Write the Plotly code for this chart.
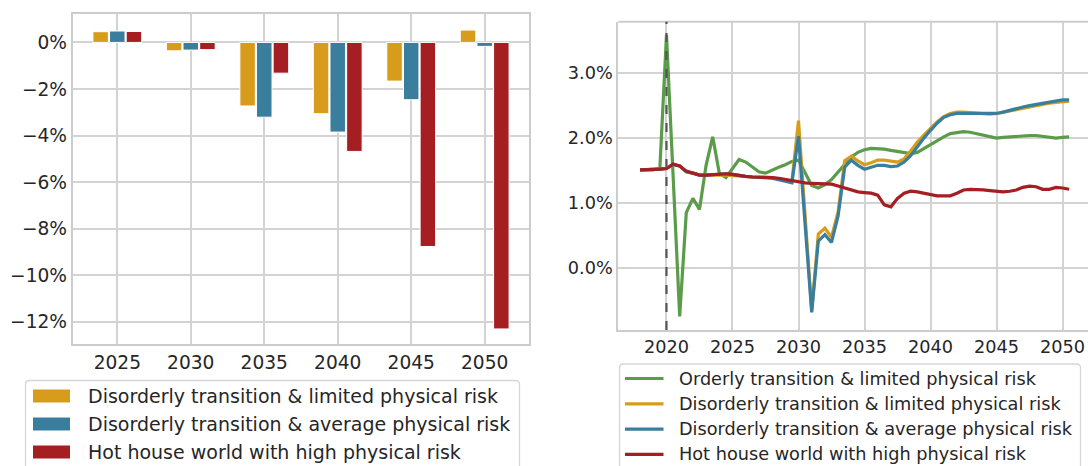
import plotly.graph_objects as go

# ---------------- data ----------------
bar_years = ["2025", "2030", "2035", "2040", "2045", "2050"]
disorderly_limited_gap = [0.46, -0.36, -2.73, -3.06, -1.66, 0.53]
disorderly_average_gap = [0.49, -0.33, -3.21, -3.85, -2.46, -0.17]
hot_house_gap = [0.47, -0.31, -1.32, -4.68, -8.76, -12.30]

bar_ticks = [0, -2, -4, -6, -8, -10, -12]
bar_tick_text = ["0%", "\u22122%", "\u22124%", "\u22126%", "\u22128%", "\u221210%", "\u221212%"]

# semi-annual growth paths, 2018.0 ... 2050.5
years = [2018 + 0.5 * i for i in range(66)]

orderly_limited = [
    1.51, 1.51, 1.51, 1.54, 3.59, 1.42, -0.75, 0.85, 1.07, 0.90,
    1.58, 2.02, 1.46, 1.39, 1.53, 1.67, 1.63, 1.55, 1.48, 1.46,
    1.51, 1.55, 1.59, 1.64, 1.66, 1.47, 1.27, 1.23, 1.28, 1.36,
    1.48, 1.60, 1.71, 1.78, 1.82, 1.84, 1.84, 1.83, 1.81, 1.79,
    1.77, 1.76, 1.78, 1.84, 1.91, 1.97, 2.02, 2.07, 2.09, 2.10,
    2.09, 2.07, 2.04, 2.02, 2.00, 2.01, 2.02, 2.03, 2.03, 2.04,
    2.04, 2.03, 2.01, 2.00, 2.01, 2.02,
]
disorderly_limited = [
    1.51, 1.51, 1.51, 1.52, 1.53, 1.59, 1.57, 1.48, 1.46, 1.43,
    1.43, 1.43, 1.44, 1.43, 1.42, 1.41, 1.40, 1.40, 1.40, 1.40,
    1.39, 1.37, 1.35, 1.33, 2.27, 0.80, -0.66, 0.52, 0.61, 0.47,
    0.86, 1.65, 1.72, 1.65, 1.59, 1.62, 1.66, 1.66, 1.64, 1.63,
    1.68, 1.80, 1.94, 2.05, 2.15, 2.25, 2.33, 2.38, 2.40, 2.40,
    2.39, 2.38, 2.37, 2.37, 2.38, 2.40, 2.42, 2.45, 2.47, 2.49,
    2.51, 2.52, 2.54, 2.55, 2.56, 2.57,
]
disorderly_average = [
    1.51, 1.51, 1.51, 1.52, 1.53, 1.59, 1.57, 1.48, 1.46, 1.43,
    1.43, 1.44, 1.45, 1.45, 1.44, 1.42, 1.41, 1.40, 1.40, 1.39,
    1.38, 1.36, 1.33, 1.31, 2.03, 0.67, -0.69, 0.41, 0.51, 0.39,
    0.80, 1.55, 1.66, 1.58, 1.52, 1.55, 1.58, 1.58, 1.56, 1.57,
    1.63, 1.73, 1.87, 2.00, 2.12, 2.23, 2.32, 2.36, 2.38, 2.38,
    2.38, 2.37, 2.37, 2.37, 2.38, 2.40, 2.43, 2.46, 2.48, 2.50,
    2.52, 2.54, 2.56, 2.57, 2.59, 2.59,
]
hot_house = [
    1.51, 1.51, 1.51, 1.52, 1.53, 1.60, 1.57, 1.49, 1.46, 1.43,
    1.43, 1.44, 1.45, 1.45, 1.44, 1.42, 1.41, 1.40, 1.40, 1.40,
    1.39, 1.38, 1.36, 1.34, 1.33, 1.31, 1.30, 1.30, 1.30, 1.29,
    1.26, 1.23, 1.19, 1.17, 1.16, 1.15, 1.12, 0.97, 0.94, 1.07,
    1.15, 1.18, 1.17, 1.15, 1.12, 1.11, 1.11, 1.11, 1.15, 1.20,
    1.21, 1.21, 1.20, 1.19, 1.18, 1.17, 1.18, 1.20, 1.24, 1.26,
    1.25, 1.21, 1.21, 1.24, 1.23, 1.21,
]

line_ticks = [0, 1, 2, 3]
line_tick_text = ["0.0%", "1.0%", "2.0%", "3.0%"]
line_xticks = [2020, 2025, 2030, 2035, 2040, 2045, 2050]
base_year = 2020

bar_names = [
    "Disorderly transition & limited physical risk",
    "Disorderly transition & average physical risk",
    "Hot house world with high physical risk",
]
line_names = ["Orderly transition & limited physical risk"] + bar_names

# ---------------- style ----------------
W, H = 1088, 466
GREEN = "#5b9c4a"
GOLD = "#d89c1c"
TEAL = "#3a7e9e"
RED = "#a51e22"
TEXT = "#262626"
GRID = "#d3d3d3"
FRAME = "#cccccc"
FONT = "DejaVu Sans"
FS_LEFT = 18.6
FS_LEFT_LEGEND = 19.0
FS_RIGHT = 17.7


def fx(px):
    return px / W


def fy(py):
    return 1 - py / H


fig = go.Figure()

for name, vals, col in zip(bar_names,
                           [disorderly_limited_gap, disorderly_average_gap, hot_house_gap],
                           [GOLD, TEAL, RED]):
    fig.add_trace(go.Bar(
        x=bar_years, y=vals, name=name, marker_color=col,
        marker_line_color="white", marker_line_width=1,
        xaxis="x", yaxis="y", showlegend=False,
    ))

for name, vals, col in zip(line_names,
                           [orderly_limited, disorderly_limited, disorderly_average, hot_house],
                           [GREEN, GOLD, TEAL, RED]):
    fig.add_trace(go.Scatter(
        x=years, y=vals, name=name, mode="lines",
        line=dict(color=col, width=3.2),
        xaxis="x2", yaxis="y2", showlegend=False,
    ))

# ---------------- axes ----------------
L_LEFT, L_RIGHT, L_TOP, L_BOT = 72.7, 529.0, 14.0, 344.3
R_LEFT, R_TOP, R_BOT = 618.3, 21.7, 330.0

common = dict(showgrid=True, gridcolor=GRID, gridwidth=1.5, zeroline=False, ticks="")

fig.update_layout(
    width=W, height=H,
    margin=dict(l=0, r=0, t=0, b=0),
    paper_bgcolor="white", plot_bgcolor="white",
    font=dict(family=FONT, color=TEXT),
    barmode="group", bargap=0.32, bargroupgap=0.07,
    xaxis=dict(domain=[fx(L_LEFT), fx(L_RIGHT)], type="category",
               range=[-0.607, 5.603], tickfont=dict(size=FS_LEFT),
               showline=True, mirror=True, linecolor=FRAME, linewidth=2,
               anchor="y", **common),
    yaxis=dict(domain=[fy(L_BOT), fy(L_TOP)], range=[-12.96, 1.22],
               tickvals=bar_ticks, ticktext=bar_tick_text,
               tickfont=dict(size=FS_LEFT),
               showline=True, mirror=True, linecolor=FRAME, linewidth=2,
               anchor="x", **common),
    xaxis2=dict(domain=[fx(R_LEFT), 1.0], range=[2016.35, 2051.93],
                tickvals=line_xticks, tickfont=dict(size=FS_RIGHT),
                showline=True, linecolor=FRAME, linewidth=2,
                anchor="y2", **common),
    yaxis2=dict(domain=[fy(R_BOT), fy(R_TOP)], range=[-0.961, 3.796],
                tickvals=line_ticks, ticktext=line_tick_text,
                tickfont=dict(size=FS_RIGHT),
                showline=True, linecolor=FRAME, linewidth=2,
                anchor="x2", **common),
)

shapes = []
# top edge of the right panel (runs off the page on the right)
shapes.append(dict(type="line", xref="paper", yref="paper",
                   x0=fx(R_LEFT), x1=1.02, y0=fy(R_TOP), y1=fy(R_TOP),
                   line=dict(color=FRAME, width=2)))
# base year marker
shapes.append(dict(type="line", xref="x2", yref="y2 domain",
                   x0=base_year, x1=base_year, y0=0, y1=1,
                   line=dict(color="#555555", width=2.2, dash="dash"), layer="above"))


def rounded_box(x0, y0, x1, y1, r=4):
    # pixel coords -> paper path with rounded corners
    def p(x, y):
        return f"{fx(x):.5f},{fy(y):.5f}"
    return ("M " + p(x0 + r, y0) + " L " + p(x1 - r, y0) + " Q " + p(x1, y0) + " " + p(x1, y0 + r)
            + " L " + p(x1, y1 - r) + " Q " + p(x1, y1) + " " + p(x1 - r, y1)
            + " L " + p(x0 + r, y1) + " Q " + p(x0, y1) + " " + p(x0, y1 - r)
            + " L " + p(x0, y0 + r) + " Q " + p(x0, y0) + " " + p(x0 + r, y0) + " Z")


annotations = []

# legend for the bar panel
shapes.append(dict(type="path", xref="paper", yref="paper",
                   path=rounded_box(25.5, 380.5, 519.5, 480),
                   line=dict(color="#d6d6d6", width=1.3), fillcolor="white"))
for i, (name, col) in enumerate(zip(bar_names, [GOLD, TEAL, RED])):
    cy = 396 + 28 * i
    shapes.append(dict(type="rect", xref="paper", yref="paper",
                       x0=fx(33), x1=fx(70), y0=fy(cy - 6.5), y1=fy(cy + 6.5),
                       fillcolor=col, line=dict(width=0)))
    annotations.append(dict(text=name, xref="paper", yref="paper",
                            x=fx(86), y=fy(cy), xanchor="left", yanchor="middle",
                            showarrow=False, font=dict(size=FS_LEFT_LEGEND, color=TEXT)))

# legend for the line panel
shapes.append(dict(type="path", xref="paper", yref="paper",
                   path=rounded_box(619.5, 364, 1080.5, 480),
                   line=dict(color="#d6d6d6", width=1.3), fillcolor="white"))
for i, (name, col) in enumerate(zip(line_names, [GREEN, GOLD, TEAL, RED])):
    cy = 378.5 + 25.3 * i
    shapes.append(dict(type="line", xref="paper", yref="paper",
                       x0=fx(625), x1=fx(663.5), y0=fy(cy), y1=fy(cy),
                       line=dict(color=col, width=3.2)))
    annotations.append(dict(text=name, xref="paper", yref="paper",
                            x=fx(677), y=fy(cy), xanchor="left", yanchor="middle",
                            showarrow=False, font=dict(size=FS_RIGHT, color=TEXT)))

fig.update_layout(shapes=shapes, annotations=annotations)

fig.write_html("out.html")
